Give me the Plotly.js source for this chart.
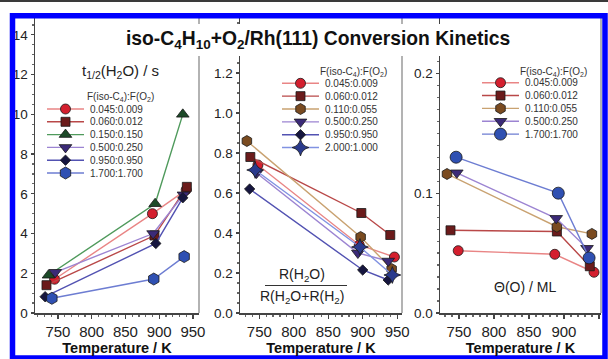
<!DOCTYPE html>
<html><head><meta charset="utf-8">
<script src="https://cdn.plot.ly/plotly-3.0.1.min.js"></script>
<style>html,body{margin:0;padding:0;background:#fff;}#chart{width:608px;height:359px;}</style>
</head><body><div id="chart"></div>
<script>
// ---------- DATA ----------
const xTickVals = [750, 800, 850, 900, 950];

// Panel 1: t1/2(H2O) / s
const p1Labels = ['0.045:0.009','0.060:0.012','0.150:0.150','0.500:0.250','0.950:0.950','1.700:1.700'];
const p1Temp = [[745,890,940],[733,893,941],[736,894,935],[746,891,936],[731,895,935],[741,892,937]];
const p1Vals = [[1.7,5.0,6.2],[1.4,3.9,6.35],[1.9,5.5,10.0],[2.05,4.0,5.95],[0.82,3.5,5.8],[0.74,1.71,2.84]];
const p1TickVals = [0,2,4,6,8,10,12,14];

// Panel 2: R(H2O)/(R(H2O)+R(H2))
const p2Labels = ['0.045:0.009','0.060:0.012','0.110:0.055','0.500:0.250','0.950:0.950','2.000:1.000'];
const p2Temp = [[748,895,946],[737,898,940],[732,897,942],[746,893,937],[736,900,937],[744,896,943]];
const p2Vals = [[0.74,0.34,0.28],[0.78,0.50,0.39],[0.86,0.38,0.22],[0.70,0.30,0.26],[0.62,0.215,0.165],[0.715,0.33,0.19]];
const p2TickVals = [0,0.2,0.4,0.6,0.8,1.0,1.2];

// Panel 3: Theta(O) / ML
const p3Labels = ['0.045:0.009','0.060:0.012','0.110:0.055','0.500:0.250','1.700:1.700'];
const p3Temp = [[749,887,943],[738,890,937],[733,890,940],[747,889,933],[746,892,936]];
const p3Vals = [[0.052,0.049,0.034],[0.069,0.068,0.039],[0.116,0.072,0.066],[0.117,0.079,0.054],[0.130,0.100,0.046]];
const p3TickVals = [0,0.1,0.2];

// ---------- STYLES ----------
const STY = {
  '0.045:0.009': {sym:'circle', fill:'#d41f2e', line:'#e98585', size:10},
  '0.060:0.012': {sym:'square', fill:'#6b1b1b', line:'#b94848', size:9},
  '0.150:0.150': {sym:'triangle-up', fill:'#1c4a28', line:'#4f9a5c', size:11},
  '0.500:0.250': {sym:'triangle-down', fill:'#3b2a78', line:'#9c84d2', size:11},
  '0.950:0.950': {sym:'diamond', fill:'#16163f', line:'#5252b2', size:8},
  '1.700:1.700': {sym:'hexagon', fill:'#2f50b2', line:'#6d7dd2', size:12},
  '0.110:0.055': {sym:'hexagon', fill:'#7a4b20', line:'#c9a271', size:11},
  '2.000:1.000': {sym:'star-diamond', fill:'#2a3a8c', line:'#8192e2', size:12}
};
const W = 608, H = 359;
const FONT = 'Liberation Sans, Arial, Helvetica, sans-serif';
const px = v => v / W;
const py = v => 1 - v / H;

const traces = [];
function addPanel(labels, temps, vals, xa, ya, symOverride) {
  labels.forEach((lab, i) => {
    const s = STY[lab];
    traces.push({
      type:'scatter', mode:'lines+markers', x: temps[i], y: vals[i], xaxis: xa, yaxis: ya,
      line:{color:s.line, width:1.4},
      marker:{symbol:(symOverride && symOverride[lab]) || s.sym, size:s.size, color:s.fill, line:{color:'#1a1a1a', width:0.8}},
      cliponaxis:false, hoverinfo:'skip'
    });
  });
}
addPanel(p1Labels, p1Temp, p1Vals, 'x', 'y');
addPanel(p2Labels, p2Temp, p2Vals, 'x2', 'y2');
addPanel(p3Labels, p3Temp, p3Vals, 'x3', 'y3', {'1.700:1.700':'circle'});

// ---------- LEGENDS (drawn on a pixel overlay axis) ----------
const annotations = [];
function addLegend(labels, titleX, titleY, lineX0, lineX1, rowY0, rowStep, textX, symOverride) {
  annotations.push({xref:'paper', yref:'paper', x:px(titleX), y:py(titleY), xanchor:'center', yanchor:'middle',
    text:'F(iso-C<sub>4</sub>):F(O<sub>2</sub>)', showarrow:false, font:{size:10, color:'#333', family:FONT}});
  labels.forEach((lab, i) => {
    const s = STY[lab];
    const yy = rowY0 + i * rowStep;
    traces.push({
      type:'scatter', mode:'lines+markers', xaxis:'x4', yaxis:'y4',
      x:[lineX0, (lineX0 + lineX1) / 2, lineX1], y:[yy, yy, yy],
      line:{color:s.line, width:1.4},
      marker:{symbol:(symOverride && symOverride[lab]) || s.sym, size:s.size, color:s.fill,
              opacity:[0,1,0], line:{color:'#1a1a1a', width:0.8}},
      cliponaxis:false, hoverinfo:'skip'
    });
    annotations.push({xref:'paper', yref:'paper', x:px(textX), y:py(yy), xanchor:'left', yanchor:'middle',
      text:lab, showarrow:false, font:{size:10, color:'#333', family:FONT}});
  });
}
addLegend(p1Labels, 120, 97, 47, 84, 109, 12.8, 88);
addLegend(p2Labels, 353, 72, 282, 319, 83.3, 12.85, 323);
addLegend(p3Labels, 553, 72, 482, 519, 82.7, 12.85, 523, {'1.700:1.700':'circle'});

// ---------- TEXT ----------
annotations.push(
  {xref:'paper', yref:'paper', x:px(318), y:py(40), xanchor:'center', yanchor:'middle', showarrow:false,
   text:'<b>iso-C<sub>4</sub>H<sub>10</sub>+O<sub>2</sub>/Rh(111) Conversion Kinetics</b>', font:{size:19.3, color:'#111', family:FONT}},
  {xref:'paper', yref:'paper', x:px(120), y:py(71), xanchor:'center', yanchor:'middle', showarrow:false,
   text:'t<sub>1/2</sub>(H<sub>2</sub>O) / s', font:{size:15, color:'#222', family:FONT}},
  {xref:'paper', yref:'paper', x:px(302), y:py(275), xanchor:'center', yanchor:'middle', showarrow:false,
   text:'R(H<sub>2</sub>O)', font:{size:14, color:'#222', family:FONT}},
  {xref:'paper', yref:'paper', x:px(302), y:py(297), xanchor:'center', yanchor:'middle', showarrow:false,
   text:'R(H<sub>2</sub>O+R(H<sub>2</sub>)', font:{size:14, color:'#222', family:FONT}},
  {xref:'paper', yref:'paper', x:px(525), y:py(287), xanchor:'center', yanchor:'middle', showarrow:false,
   text:'Θ(O) / ML', font:{size:14, color:'#222', family:FONT}}
);

// ---------- AXES ----------
const yTop = py(17), yBot = py(313);
function xAxis(d0, d1, range, anchor) {
  return {domain:[px(d0), px(d1)], range:range, anchor:anchor, showline:true, linecolor:'#444', linewidth:1.5,
    ticks:'outside', ticklen:4, tickwidth:1.2, tickcolor:'#444', tickvals:xTickVals,
    ticktext:xTickVals.map(String), tickfont:{size:15, color:'#222', family:FONT},
    minor:{dtick:10, ticks:'outside', ticklen:2, tickcolor:'#666', showgrid:false},
    showgrid:false, zeroline:false, fixedrange:true,
    title:{text:'<b>Temperature / K</b>', font:{size:14.5, color:'#111', family:FONT}, standoff:4}};
}
function yAxis(range, tv, fmt, minorD, anchor) {
  return {domain:[yBot, yTop], range:range, anchor:anchor, showline:true, linecolor:'#444', linewidth:1.5,
    ticks:'outside', ticklen:3, tickwidth:1.2, tickcolor:'#444', tickvals:tv,
    ticktext:tv.map(v => fmt ? v.toFixed(fmt) : String(v)), tickfont:{size:13.5, color:'#222', family:FONT},
    minor:{dtick:minorD, ticks:'outside', ticklen:2, tickcolor:'#666', showgrid:false},
    showgrid:false, zeroline:false, fixedrange:true};
}

const shapes = [
  // right frame lines of each panel
  {type:'line', xref:'paper', yref:'paper', x0:px(199), x1:px(199), y0:yTop, y1:yBot, line:{color:'#9a9a9a', width:1.5}},
  {type:'line', xref:'paper', yref:'paper', x0:px(402), x1:px(402), y0:yTop, y1:yBot, line:{color:'#9a9a9a', width:1.5}},
  {type:'line', xref:'paper', yref:'paper', x0:px(601), x1:px(601), y0:yTop, y1:yBot, line:{color:'#9a9a9a', width:1.5}},
  // white box behind the main title
  {type:'rect', xref:'paper', yref:'paper', x0:px(118), x1:px(524), y0:py(24), y1:py(56), fillcolor:'#ffffff', line:{width:0}, layer:'above'},
  // fraction bar
  {type:'line', xref:'paper', yref:'paper', x0:px(265), x1:px(347), y0:py(285.5), y1:py(285.5), line:{color:'#333', width:1.2}, layer:'above'},
  // top dark strip
  {type:'rect', xref:'paper', yref:'paper', x0:0, x1:1, y0:py(0), y1:py(2), fillcolor:'#3a3a3a', line:{width:0}, layer:'above'},
  // blue border
  {type:'rect', xref:'paper', yref:'paper', x0:px(12.5), x1:px(605), y0:py(15.8), y1:py(358), fillcolor:'rgba(0,0,0,0)', line:{color:'#0000ff', width:5.5}, layer:'above'}
];

const layout = {
  width:W, height:H, margin:{l:0, r:0, t:0, b:0}, paper_bgcolor:'#ffffff', plot_bgcolor:'rgba(0,0,0,0)',
  showlegend:false, font:{family:FONT, color:'#222'},
  xaxis: xAxis(35, 199, [716, 959], 'y'),
  yaxis: yAxis([0, 14.9], p1TickVals, 0, 0.5, 'x'),
  xaxis2: xAxis(240, 402, [722, 957], 'y2'),
  yaxis2: yAxis([0, 1.48], p2TickVals, 1, 0.05, 'x2'),
  xaxis3: xAxis(440, 601, [723, 953], 'y3'),
  yaxis3: yAxis([0, 0.247], p3TickVals, 1, 0.01, 'x3'),
  xaxis4: {domain:[0,1], range:[0,W], anchor:'y4', visible:false, fixedrange:true},
  yaxis4: {domain:[0,1], range:[H,0], anchor:'x4', visible:false, fixedrange:true},
  shapes: shapes,
  annotations: annotations
};

Plotly.newPlot('chart', traces, layout, {staticPlot:true, displayModeBar:false});
</script></body></html>
